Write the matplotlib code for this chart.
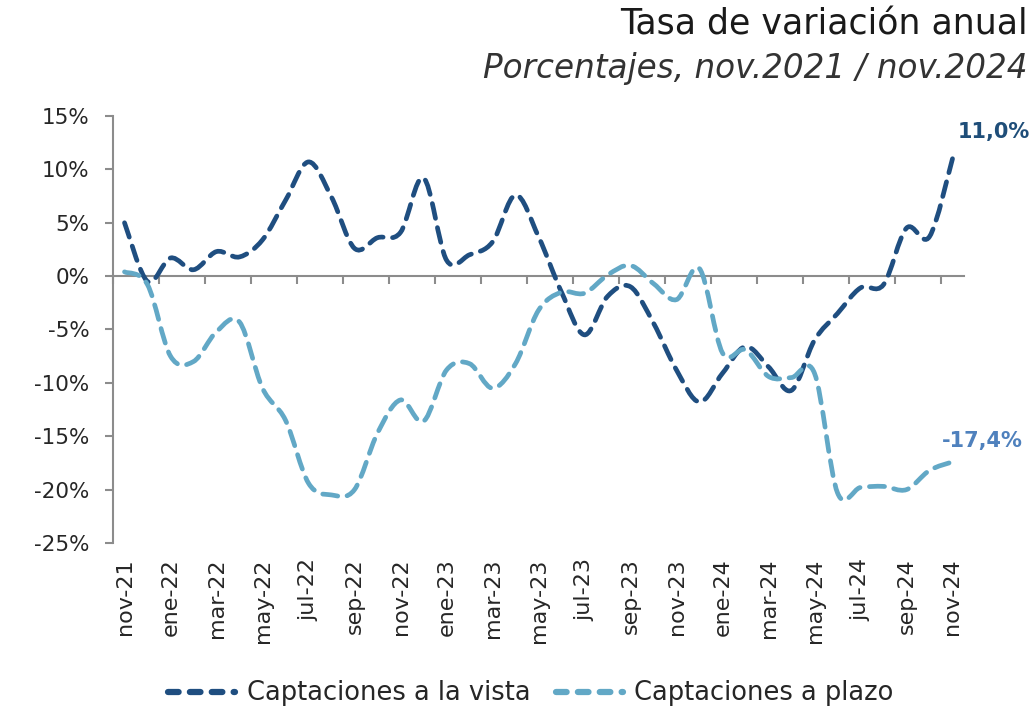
import numpy as np
import matplotlib
matplotlib.use('Agg')
import matplotlib.pyplot as plt
from matplotlib.path import Path
from matplotlib.patches import PathPatch
from matplotlib.lines import Line2D

plt.rcParams['font.family'] = ['DejaVu Sans']

# monthly series, nov-21 .. nov-24 (37 months)
months = ['nov-21', 'dic-21', 'ene-22', 'feb-22', 'mar-22', 'abr-22', 'may-22', 'jun-22',
          'jul-22', 'ago-22', 'sep-22', 'oct-22', 'nov-22', 'dic-22', 'ene-23', 'feb-23',
          'mar-23', 'abr-23', 'may-23', 'jun-23', 'jul-23', 'ago-23', 'sep-23', 'oct-23',
          'nov-23', 'dic-23', 'ene-24', 'feb-24', 'mar-24', 'abr-24', 'may-24', 'jun-24',
          'jul-24', 'ago-24', 'sep-24', 'oct-24', 'nov-24']
vista = [5.0, -0.5, 1.7, 0.6, 2.3, 1.8, 3.4, 7.1, 10.7, 7.4, 2.6, 3.6, 4.1, 9.2, 1.5, 2.0,
         3.2, 7.6, 3.7, -1.5, -5.5, -1.9, -1.0, -4.4, -8.8, -11.8, -9.1, -6.6, -8.5, -10.7,
         -6.0, -3.5, -1.1, -0.8, 4.5, 3.7, 11.0]
plazo = [0.4, -0.8, -7.5, -8.0, -5.2, -4.3, -10.5, -13.5, -19.4, -20.5, -20.0, -14.7, -11.6,
         -13.6, -8.8, -8.2, -10.5, -8.2, -3.2, -1.5, -1.6, 0.1, 1.0, -0.7, -2.2, 0.7, -7.2,
         -6.9, -9.4, -9.5, -9.1, -20.3, -19.8, -19.7, -20.0, -18.2, -17.4]
yticks = [15, 10, 5, 0, -5, -10, -15, -20, -25]

c_vista = '#1F4E80'
c_plazo = '#62A8C6'


def smooth_path(x, y):
    # excel-like smoothed line: cubic bezier through each point
    pts = np.column_stack([x, y]).astype(float)
    n = len(pts)
    verts = [pts[0]]
    codes = [Path.MOVETO]
    for i in range(n - 1):
        p0 = pts[max(i - 1, 0)]
        p1 = pts[i]
        p2 = pts[i + 1]
        p3 = pts[min(i + 2, n - 1)]
        verts += [p1 + (p2 - p0) / 6, p2 - (p3 - p1) / 6, p2]
        codes += [Path.CURVE4] * 3
    return Path(verts, codes)


fig = plt.figure(figsize=(10.35, 7.07), dpi=100)
ax = fig.add_axes([0.1092, 0.232, 0.8222, 0.6039])

x = np.arange(len(months))
for vals, col in [(vista, c_vista), (plazo, c_plazo)]:
    patch = PathPatch(smooth_path(x, vals), facecolor='none', edgecolor=col, lw=3.4,
                      linestyle=(0, (3.2, 2.0)), capstyle='round', zorder=3)
    ax.add_patch(patch)

ax.set_xlim(-0.5, len(months) - 0.5)
ax.set_ylim(-25, 15)

grey = '#8C8C8C'
# zero line with tick marks between categories
for s in ['top', 'right']:
    ax.spines[s].set_visible(False)
ax.spines['bottom'].set_position(('data', 0))
ax.spines['bottom'].set_color(grey)
ax.spines['bottom'].set_linewidth(1.5)
ax.spines['left'].set_color(grey)
ax.spines['left'].set_linewidth(1.5)
ax.set_xticks(np.arange(-0.5, len(months), 2))
ax.tick_params(axis='x', direction='out', length=6, width=1.5, color=grey, labelbottom=False)

ax.set_yticks(yticks)
ax.set_yticklabels([f'{v}%' for v in yticks])
ax.tick_params(axis='y', direction='out', length=6, width=1.5, color=grey,
               labelsize=15.5, labelcolor='#262626', pad=11)

sec = ax.secondary_xaxis('bottom')
sec.set_xticks(x[::2])
sec.set_xticklabels(months[::2], rotation=90, fontsize=16, color='#262626')
sec.tick_params(length=0, pad=11)
sec.spines['bottom'].set_visible(False)

ax.annotate('11,0%', xy=(x[-1], vista[-1]), xytext=(4, 12), textcoords='offset points',
            fontsize=15, fontweight='bold', color='#1F4E79', ha='left', va='bottom')
ax.annotate('-17,4%', xy=(x[-1], plazo[-1]), xytext=(-8, 8), textcoords='offset points',
            fontsize=15, fontweight='bold', color='#4F81BD', ha='left', va='bottom')

fig.text(0.993, 0.966, 'Tasa de variación anual', ha='right', va='center', fontsize=25,
         color='#1A1A1A')
fig.text(0.993, 0.903, 'Porcentajes, nov.2021 / nov.2024', ha='right', va='center',
         fontsize=23.5, style='italic', color='#333333')

handles = [Line2D([], [], color=c_vista, lw=4.5, linestyle=(0, (1.7, 1.8)),
                  dash_capstyle='round'),
           Line2D([], [], color=c_plazo, lw=4.5, linestyle=(0, (1.7, 1.8)),
                  dash_capstyle='round')]
leg = fig.legend(handles, ['Captaciones a la vista', 'Captaciones a plazo'], loc='lower center',
                 bbox_to_anchor=(0.513, -0.032), ncol=2, frameon=False, fontsize=18.5,
                 handlelength=2.6, columnspacing=1.0, handletextpad=0.45)
for t in leg.get_texts():
    t.set_color('#262626')

fig.savefig('out.png', dpi=100)
